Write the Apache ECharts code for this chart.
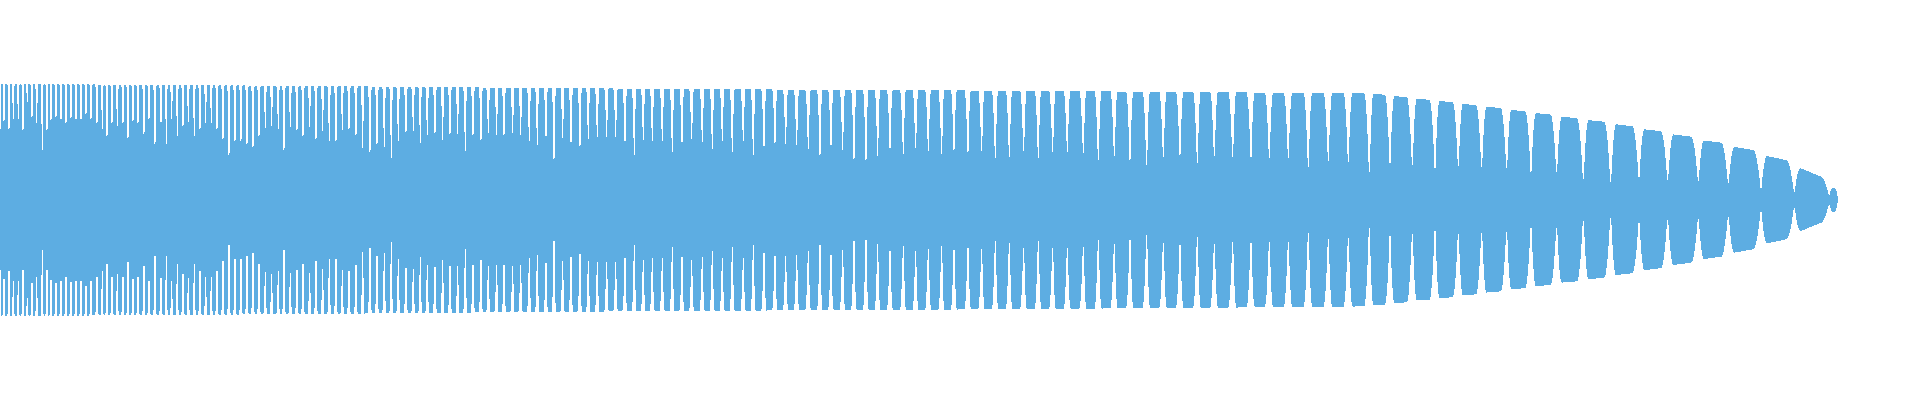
<!DOCTYPE html>
<html>
<head>
<meta charset="utf-8">
<script src="https://cdn.jsdelivr.net/npm/echarts@6/dist/echarts.min.js"></script>
<style>
html,body{margin:0;padding:0;background:#fff;}
#main{width:1920px;height:400px;}
#main svg path{shape-rendering:crispEdges;}
</style>
</head>
<body>
<div id="main"></div>
<script>
// Boundaries between lobes of the waveform (sample position)
const gapX = [
  0, 4, 9, 13.3, 18.3, 23, 27.3, 32, 36.7, 42.3, 47, 51, 56, 61, 66, 71, 76, 81, 86, 91,
  97, 102.3, 107, 112, 117.3, 123, 128, 133, 138, 144, 149, 155, 161, 166.3, 171.7, 177.3, 183, 188.3, 194.3, 200,
  205.7, 211.3, 217, 223, 229, 235, 241, 247, 253, 259, 265.3, 271.7, 278.3, 284, 290.3, 297, 303, 309.7, 316, 322.7,
  329.3, 336, 342.3, 349, 356, 362.7, 370, 377, 384.3, 391.3, 398.3, 406, 413.3, 420.3, 427.3, 435, 442.7, 450, 457.7, 465.3,
  473,
  481, 488.3, 496.7, 504, 512.7, 520.7, 529.3, 537.3, 546, 554, 562.7, 571, 580, 588.3, 597.3, 606.7, 615.7, 625, 634.3, 643.3,
  652.3, 662.3, 672.3, 682, 691.7, 702.3, 712.3, 722.3, 732.3, 743.3, 753.3, 764, 775, 785.7, 796.7, 808.3, 820, 831, 842.7, 854,
  866, 877.7, 890, 903.3, 915.7, 928.3, 941.7, 954,
  968, 981.7, 995.3, 1009.3, 1023.7, 1038.3, 1052.7, 1067.3, 1083.3, 1098.3, 1114.3, 1130, 1146.7, 1163.3, 1180, 1197.3, 1214.3, 1232.7, 1251, 1269.3,
  1288.3, 1308.3, 1328.3, 1348.3, 1369.3, 1390, 1412.3, 1435,
  1458.3, 1481.7, 1506.7, 1531, 1556.7, 1583.3, 1610.7, 1639, 1667.7, 1698.3, 1728.3, 1761, 1794.3, 1829.3,
  1838.3
];
// Amplitude of the waveform at each boundary (depth of the notch)
const troughAmp = [
  70, 79, 71, 81, 81, 70, 98, 83, 77, 50, 70, 80, 83, 81, 77, 82, 81, 81, 86, 81,
  77, 71, 64, 77, 74, 77, 62, 79, 77, 66, 81, 56, 78, 56, 81, 64, 74, 78, 64, 71,
  77, 77, 71, 61, 45, 59, 59, 56, 53, 64, 72, 74, 71, 50, 73, 70, 64, 73, 61, 69,
  59, 59, 70, 71, 65, 52, 48, 56, 53, 42, 59, 68, 69, 57, 65, 67, 60, 66, 66, 49,
  65,
  60, 66.7, 65, 65, 66.7, 65, 58.3, 55, 63.3, 41, 61.7, 57.3, 54, 61, 62.3, 62.3, 62.3, 58.3, 45, 60,
  58.3, 58.3, 47.3, 57.3, 60.7, 57.3, 51, 58.3, 47.3, 58.3, 45, 53.3, 56.7, 56, 55, 51, 45, 55, 50, 41,
  40, 44, 51.7, 46, 51.7, 49, 46, 50,
  48, 49, 41.7, 43, 48.7, 41.7, 48, 48, 47, 40, 44, 40, 35, 43, 45, 37, 44, 42.7, 43, 42,
  42, 33, 39, 38, 28, 36.7, 34.7, 31.7,
  34, 33, 32, 28, 28, 21, 18, 23, 20, 19, 17, 12, 8, 5,
  0
];
// Peak amplitude of each lobe
const peakAmp = [
  116, 116, 116, 116, 116, 116, 116, 116, 116, 116, 116, 116, 116, 116, 116, 116, 116, 116, 116, 116,
  115, 115, 115, 115, 115, 115, 115, 115, 115, 115, 115, 115, 115, 115, 115, 115, 115, 115, 115, 115,
  115, 115, 115, 115, 115, 115, 115,
  114, 114, 114, 114, 114, 114, 114, 114, 114, 114, 114, 114, 114, 114, 114, 114, 114, 114, 114,
  113, 113, 113, 113, 113, 113, 113, 113, 113, 113, 113, 113, 113, 113,
  113,
  112, 112, 112, 112, 112, 112, 112, 112, 112, 112, 112, 112, 112, 112, 112, 112,
  111, 111, 111, 111, 111, 111, 111, 111, 111, 111, 111, 111, 111, 111, 111, 111,
  110, 110, 110, 110, 110, 110, 110, 110, 110, 110, 110, 110, 110, 110, 110,
  110,
  109, 109, 109, 109, 109, 109, 109, 109, 109, 109,
  108, 108, 108, 108, 108, 108, 108, 108,
  107, 107, 107, 107, 107, 107,
  106, 104, 101,
  99,
  96, 93.3, 90, 87, 83.3, 80, 76, 71, 66, 60, 54, 45, 34, 12
];

const COLOR = '#5DADE2';
const lobes = [];
for (let i = 0; i < gapX.length - 1; i++) {
  lobes.push([gapX[i], gapX[i + 1], peakAmp[i], troughAmp[i], troughAmp[i + 1],
              i + 1 < peakAmp.length ? peakAmp[i + 1] : peakAmp[i]]);
}

function renderLobe(params, api) {
  const x0 = api.value(0), x1 = api.value(1);
  const pk = api.value(2), tL = api.value(3), tR = api.value(4), pkN = api.value(5);
  const unitX = api.size([1, 0])[0];
  const W = (x1 - x0) * unitX;          // width in px
  const last = params.dataIndex === lobes.length - 1;
  const g = (last ? 0.2 : 0.5) / unitX; // half slit in data units
  const wl = Math.max(0.8, (last ? 0.35 : 0.17) * W) / unitX;
  const wr = Math.max(1.0, (last ? 0.4 : 0.22) * W) / unitX;
  const peakR = pk - 0.65 * (pk - pkN);
  const a = x0 + g, b = x1 - g;
  const n = Math.max(8, Math.ceil(W * 2));
  const top = [[x0, tL], [a, tL]];
  for (let k = 0; k <= n; k++) {
    const x = a + (b - a) * k / n;
    const u = (x - x0) / (x1 - x0);
    const base = pk + (peakR - pk) * u;
    const dl = x - a, dr = b - x;
    const fl = dl >= wl ? 1 : 1 - Math.pow(1 - dl / wl, 2);
    const fr = dr >= wr ? 1 : 1 - Math.pow(1 - dr / wr, 2);
    const ampL = tL + (base - tL) * fl;
    const ampR = tR + (base - tR) * fr;
    top.push([x, Math.min(ampL, ampR)]);
  }
  top.push([b, tR], [x1, tR]);
  const pts = [];
  for (const p of top) pts.push(api.coord([p[0], p[1]]));
  for (let k = top.length - 1; k >= 0; k--) pts.push(api.coord([top[k][0], -top[k][1]]));
  return { type: 'polygon', shape: { points: pts }, style: { fill: COLOR } };
}

const chart = echarts.init(document.getElementById('main'), null, { renderer: 'svg' });
chart.setOption({
  animation: false,
  grid: { left: 0, right: 0, top: 0, bottom: 0 },
  xAxis: { type: 'value', min: 0, max: 1920, show: false },
  yAxis: { type: 'value', min: -200.3, max: 199.7, show: false },
  series: [{
    type: 'custom',
    renderItem: renderLobe,
    data: lobes,
    clip: true,
    itemStyle: { color: COLOR }
  }]
});
</script>
</body>
</html>
